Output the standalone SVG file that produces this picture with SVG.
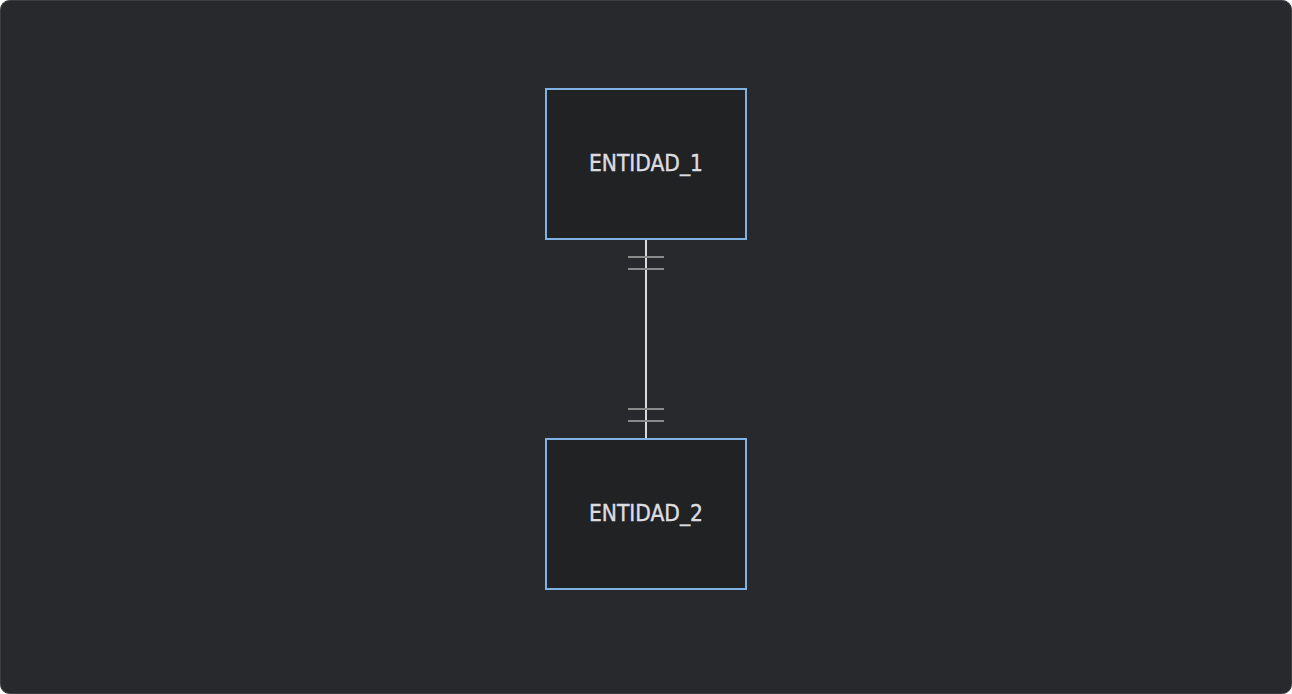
<svg xmlns="http://www.w3.org/2000/svg" width="1292" height="694" viewBox="0 0 1292 694">
<style>
.ent rect{fill:#212223;stroke:#80b3e4;stroke-width:2}
.ent text{fill:#dcdce0;stroke:#dcdce0;stroke-width:0.4;font-family:"DejaVu Sans Condensed","DejaVu Sans",sans-serif;font-size:22.5px;text-anchor:middle;dominant-baseline:central}
.rel{stroke:#dadada;stroke-width:2;fill:none}
.tick{stroke:#8a8a8a;stroke-width:2}
</style>
<rect x="0.5" y="0.5" width="1291" height="693" rx="9" fill="#28292d" stroke="#3c3d42"/>
<g id="connectors">
<line class="rel" x1="646" y1="239" x2="646" y2="438"/>
<line class="tick" x1="628" y1="257" x2="664" y2="257"/>
<line class="tick" x1="628" y1="269" x2="664" y2="269"/>
<line class="tick" x1="628" y1="409" x2="664" y2="409"/>
<line class="tick" x1="628" y1="421" x2="664" y2="421"/>
</g>
<g id="entidad1" class="ent">
<rect x="546" y="89" width="200" height="150"/>
<text x="646" y="163">ENTIDAD_1</text>
</g>
<g id="entidad2" class="ent">
<rect x="546" y="439" width="200" height="150"/>
<text x="646" y="513">ENTIDAD_2</text>
</g>
</svg>
